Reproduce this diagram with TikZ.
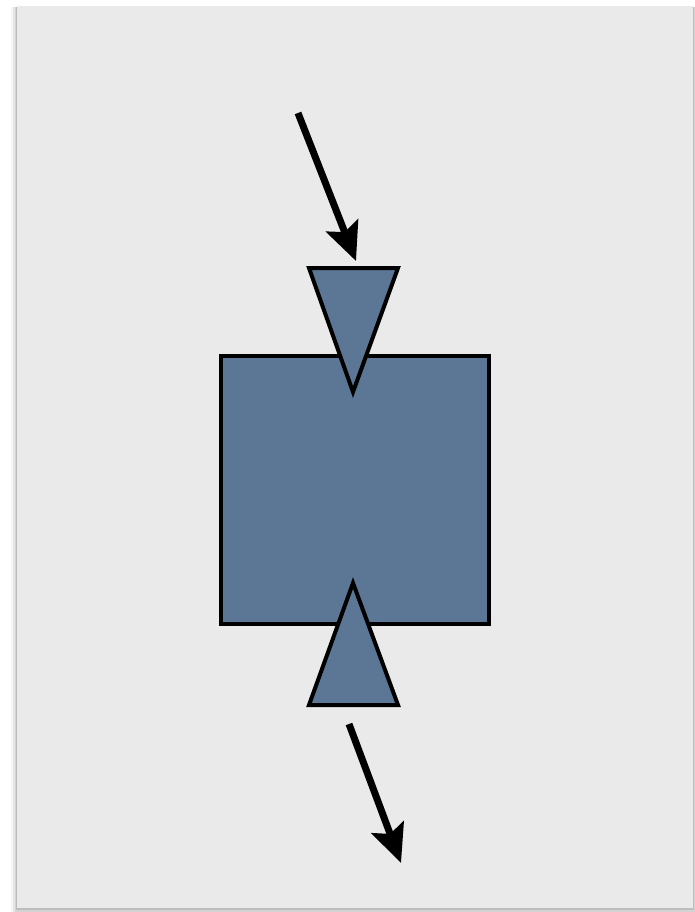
\documentclass[tikz,border=0pt]{standalone}
\usetikzlibrary{arrows.meta}
\definecolor{panelgray}{RGB}{234,234,234}
\definecolor{slate}{RGB}{92,119,149}
\begin{document}
\begin{tikzpicture}[x=1pt,y=-1pt,
  slateshape/.style={draw=black,fill=slate,line width=4pt,miter limit=20},
  flow/.style={draw=black,line width=7pt,-{Stealth[length=38pt,width=34pt,inset=7pt]}}]
\useasboundingbox (0,0) rectangle (695,912);
\fill[white] (0,0) rectangle (695,912);
% shadow
\foreach \d/\o in {6/0.04,4/0.06,2.5/0.08,1.2/0.10}{
  \fill[black,opacity=\o] (17-\d,6+1) rectangle (693+\d,908+\d+1);
}
\fill[panelgray] (17,6) rectangle (693,908);
% square
\node[slateshape,minimum width=268pt,minimum height=268pt,inner sep=0pt,outer sep=0pt] (box) at (355,490) {};
% upper triangle
\coordinate (t1a) at (309,268);
\coordinate (t1b) at (398,268);
\coordinate (t1c) at (353,392);
\draw[slateshape] (t1a) -- (t1b) -- (t1c) -- cycle;
% lower triangle
\coordinate (t2a) at (309,705);
\coordinate (t2b) at (398,705);
\coordinate (t2c) at (353,583);
\draw[slateshape] (t2a) -- (t2b) -- (t2c) -- cycle;
% arrows
\coordinate (inS) at (298,113);
\coordinate (inE) at (356,261);
\draw[flow] (inS) -- (inE);
\coordinate (outS) at (349,724);
\coordinate (outE) at (401,863);
\draw[flow] (outS) -- (outE);
\end{tikzpicture}
\end{document}
